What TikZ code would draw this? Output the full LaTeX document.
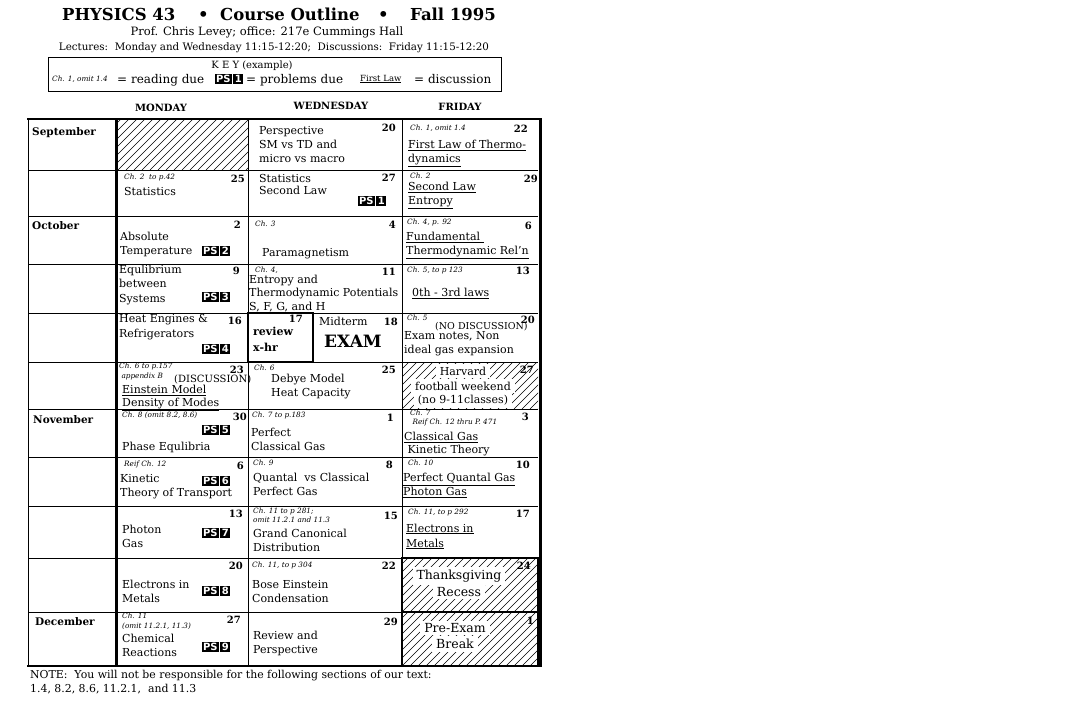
\documentclass[tikz,border=0pt]{standalone}
\usepackage{fontspec}
\setmainfont{DejaVu Serif}
\newfontfamily\badgefont{DejaVu Sans}
\newcommand{\psbadge}[1]{{\setlength{\fboxsep}{1.6pt}\badgefont\bfseries\fontsize{10}{11}\selectfont
  \colorbox{black}{\textcolor{white}{PS}}\kern1pt\colorbox{black}{\textcolor{white}{#1}}}}

\begin{document}
\begin{tikzpicture}[x=1pt,y=-1pt,
  txt/.style={anchor=north west,inner sep=0pt,align=left,font=\fontsize{11}{#1}\selectfont,
    execute at begin node=\strut,yshift={0.7*#1pt}},
  txt/.default=14,
  note/.style={anchor=north west,inner sep=0pt,align=left,font=\fontsize{7.3}{#1}\selectfont\itshape,
    execute at begin node=\strut,yshift={0.7*#1pt}},
  note/.default=9,
  num/.style={anchor=base east,inner sep=0pt,font=\fontsize{10}{12}\selectfont\bfseries},
  month/.style={anchor=base west,inner sep=0pt,font=\fontsize{10.5}{12}\selectfont\bfseries},
  day/.style={inner sep=0pt,font=\fontsize{10}{12}\selectfont\bfseries},
  hol/.style={fill=white,inner xsep=4pt,inner ysep=2.8pt,font=\fontsize{#1}{14}\selectfont},
  hol/.default=11,
  hatchline/.style={line width=0.6pt},
  thin/.style={line width=0.8pt},
  thick/.style={line width=2.6pt}]

\fill[white] (0,0) rectangle (1080,720);
\useasboundingbox (0,0) rectangle (1080,720);

% heading
\node[anchor=base west,inner sep=0pt,font=\fontsize{16.5}{18}\selectfont\bfseries] (title1) at (62,20) {PHYSICS 43};
\node[anchor=base west,inner sep=0pt,font=\fontsize{16.5}{18}\selectfont\bfseries] (dot1) at (198,20) {•};
\node[anchor=base west,inner sep=0pt,font=\fontsize{16.5}{18}\selectfont\bfseries] (title2) at (220,20) {Course Outline};
\node[anchor=base west,inner sep=0pt,font=\fontsize{16.5}{18}\selectfont\bfseries] (dot2) at (378,20) {•};
\node[anchor=base west,inner sep=0pt,font=\fontsize{16.5}{18}\selectfont\bfseries] (title3) at (410,20) {Fall 1995};
\node[anchor=base,inner sep=0pt,font=\fontsize{11.5}{13}\selectfont] (prof) at (267,35) {Prof. Chris Levey; office: 217e Cummings Hall};
\node[anchor=base,inner sep=0pt,font=\fontsize{10.3}{12}\selectfont] (lect) at (274,50)
  {Lectures:\ \ Monday and Wednesday 11:15-12:20;\ \ Discussions:\ \ Friday 11:15-12:20};

% key
\draw[thin] (48,57) rectangle (501,91);
\node[anchor=base,inner sep=0pt,font=\fontsize{10}{12}\selectfont] (key) at (252,68) {K E Y (example)};
\node[anchor=base west,inner sep=0pt,font=\fontsize{7.3}{9}\selectfont\itshape] (keynote) at (52,81) {Ch. 1, omit 1.4};
\node[anchor=base west,inner sep=0pt,font=\fontsize{12}{14}\selectfont] (keyread) at (117,83) {= reading due};
\node[inner sep=0pt] (keyps) at (229,79) {\psbadge{1}};
\node[anchor=base west,inner sep=0pt,font=\fontsize{12}{14}\selectfont] (keyprob) at (246,83) {= problems due};
\node[anchor=base west,inner sep=0pt,font=\fontsize{8.5}{10}\selectfont] (keydisc) at (360,81) {\underline{First Law}};
\node[anchor=base west,inner sep=0pt,font=\fontsize{12}{14}\selectfont] (keydis) at (414,83) {= discussion};

\node[day] (monday) at (161,108) {MONDAY};
\node[day] (wednesday) at (331,106) {WEDNESDAY};
\node[day] (friday) at (460,107) {FRIDAY};

% grid
\foreach \xa/\ya/\xb/\yb in {118/119/248/170,402/362/538/409,402/558/538/612,402/612/538/666} {
  \begin{scope}
    \clip (\xa,\ya) rectangle (\xb,\yb);
    \foreach \k in {-64,-56,...,136}
      \draw[hatchline] (\xa+\k,\yb) -- ++(64,-64);
  \end{scope}
}
\foreach \y in {170,216,264,313,362,409,457,506,558,612}
  \draw[thin] (28,\y) -- (538,\y);
\foreach \x in {28,248,402}
  \draw[thin] (\x,119) -- (\x,666);
\draw[thick] (27,119) -- (540.5,119) -- (540.5,666) -- (27,666);
\draw[thick] (116.5,119) -- (116.5,666);
\draw[line width=1.8pt] (248,313) rectangle (313,362);
\draw[line width=1.6pt] (402,558) rectangle (538,612);
\draw[line width=1.6pt] (402,612) rectangle (538,666);

% months
\node[month] (sep) at (32,135) {September};
\node[month] (oct) at (32,229) {October};
\node[month] (nov) at (33,423) {November};
\node[month] (dec) at (35,625) {December};

% day numbers
\foreach \nm/\px/\py/\d in {s20/396/131/20,s22/528/132/22,s25/245/182/25,s27/396/181/27,s29/538/182/29,
  o2/241/228/2,o4/396/228/4,o6/532/229/6,o9/240/274/9,o11/396/275/11,o13/530/274/13,
  o16/242/324/16,o17/303/322/17,o18/398/325/18,o20/535/323/20,o23/244/373/23,o25/396/373/25,o27/534/373/27,
  n30/247/420/30,n1/394/421/1,n3/529/420/3,n6/244/469/6,n8/393/468/8,n10/530/468/10,
  n13/243/517/13,n15/398/519/15,n17/530/517/17,n20/243/569/20,n22/396/569/22,n24/531/569/24,
  d27/241/623/27,d29/398/625/29,d1/534/624/1}
  \node[num] (\nm) at (\px,\py) {\d};

% problem sets
\foreach \n/\px/\py in {1/372/201,2/216/251,3/216/297,4/216/349,5/216/430,6/216/481,7/216/533,8/216/591,9/216/647}
  \node[inner sep=0pt] (ps\n) at (\px,\py) {\psbadge{\n}};

% September
\node[txt] (s20txt) at (259,136) {Perspective\\SM vs TD and\\micro vs macro};
\node[note] (s22note) at (410,130.5) {Ch. 1, omit 1.4};
\node[txt] (s22txt) at (408,150) {\underline{First Law of Thermo-}\\\underline{dynamics}};
\node[note] (s25note) at (124,179.5) {Ch. 2\ \ to p.42};
\node[txt] (s25txt) at (124,195) {Statistics};
\node[txt=12] (s27txt) at (259,183) {Statistics\\Second Law};
\node[note] (s29note) at (410,178.5) {Ch. 2};
\node[txt] (s29txt) at (408,192) {\underline{Second Law}\\\underline{Entropy}};

% October
\node[txt] (o2txt) at (120,242) {Absolute\\Temperature};
\node[note] (o4note) at (255,226.5) {Ch. 3};
\node[txt] (o4txt) at (262,256) {Paramagnetism};
\node[note] (o6note) at (407,224.5) {Ch. 4, p. 92};
\node[txt] (o6txt) at (406,242) {\underline{Fundamental\ }\\\underline{Thermodynamic Rel'n}};
\node[txt=14.5] (o9txt) at (119,275) {Equlibrium\\between\\Systems};
\node[note] (o11note) at (255,272.5) {Ch. 4,};
\node[txt=13.5] (o11txt) at (249,284) {Entropy and\\Thermodynamic Potentials\\S, F, G, and H};
\node[note] (o13note) at (407,272.5) {Ch. 5, to p 123};
\node[txt] (o13txt) at (412,296) {\underline{0th - 3rd laws}};
\node[txt=15] (o16txt) at (119,325) {Heat Engines \&\\Refrigerators};
\node[txt=16,font=\fontsize{11}{16}\selectfont\bfseries] (o17txt) at (253,338) {review\\x-hr};
\node[txt] (o18txt) at (319,325) {Midterm};
\node[inner sep=0pt,font=\fontsize{17}{20}\selectfont\bfseries] (exam) at (353,341) {EXAM};
\node[note] (o20note) at (407,320.5) {Ch. 5};
\node[anchor=base west,inner sep=0pt,font=\fontsize{9.5}{12}\selectfont] (o20nd) at (435,329) {(NO DISCUSSION)};
\node[txt] (o20txt) at (404,341) {Exam notes, Non\\ideal gas expansion};
\node[note=10] (o23note) at (119,369.5) {Ch. 6\ to p.157\\\ appendix B};
\node[anchor=base west,inner sep=0pt,font=\fontsize{10}{12}\selectfont] (o23d) at (174,382) {(DISCUSSION)};
\node[txt=12.5] (o23txt) at (122,394) {\underline{Einstein Model}\\\underline{Density of Modes}};
\node[note] (o25note) at (254,370.5) {Ch. 6};
\node[txt] (o25txt) at (271,384) {Debye Model\\Heat Capacity};
\node[hol] (o27a) at (463,371) {Harvard};
\node[hol] (o27b) at (463,386) {football weekend};
\node[hol] (o27c) at (463,400) {(no 9-11classes)};

% November
\node[note] (n30note) at (122,417.5) {Ch. 8 (omit 8.2, 8.6)};
\node[txt] (n30txt) at (122,450) {Phase Equlibria};
\node[note] (n1note) at (252,417.5) {Ch. 7 to p.183};
\node[txt] (n1txt) at (251,438) {Perfect\\Classical Gas};
\node[note] (n3note) at (410,416.5) {Ch. 7\\\ Reif Ch. 12 thru P. 471};
\node[txt=13] (n3txt) at (404,441) {\underline{Classical Gas}\\\ \underline{Kinetic Theory}};
\node[note] (n6note) at (124,466.5) {Reif Ch. 12};
\node[txt] (n6txt) at (120,484) {Kinetic\\Theory of Transport};
\node[note] (n8note) at (253,465.5) {Ch. 9};
\node[txt] (n8txt) at (253,483) {Quantal\ \ vs Classical\\Perfect Gas};
\node[note] (n10note) at (408,465.5) {Ch. 10};
\node[txt] (n10txt) at (403,483) {\underline{Perfect Quantal Gas}\\\underline{Photon Gas}};
\node[txt] (n13txt) at (122,535) {Photon\\Gas};
\node[note] (n15note) at (253,514.5) {Ch. 11 to p 281;\\omit 11.2.1 and 11.3};
\node[txt] (n15txt) at (253,539) {Grand Canonical\\Distribution};
\node[note] (n17note) at (408,514.5) {Ch. 11, to p 292};
\node[txt=15] (n17txt) at (406,534) {\underline{Electrons in}\\\underline{Metals}};
\node[txt] (n20txt) at (122,590) {Electrons in\\Metals};
\node[note] (n22note) at (252,567.5) {Ch. 11, to p 304};
\node[txt] (n22txt) at (252,590) {Bose Einstein\\Condensation};
\node[hol=12.5] (n24a) at (459,576) {Thanksgiving};
\node[hol=12.5] (n24b) at (459,592) {Recess};

% December
\node[note=9.5] (d27note) at (122,619.5) {Ch. 11\\(omit 11.2.1, 11.3)};
\node[txt] (d27txt) at (122,644) {Chemical\\Reactions};
\node[txt] (d29txt) at (253,641) {Review and\\Perspective};
\node[hol=12.5] (d1a) at (455,628) {Pre-Exam};
\node[hol=12.5] (d1b) at (455,644) {Break};

% footnote
\node[txt,font=\fontsize{10.9}{14}\selectfont] (footer) at (30,680)
  {NOTE:\ \ You will not be responsible for the following sections of our text:\\1.4, 8.2, 8.6, 11.2.1,\ \ and 11.3};
\end{tikzpicture}
\end{document}
